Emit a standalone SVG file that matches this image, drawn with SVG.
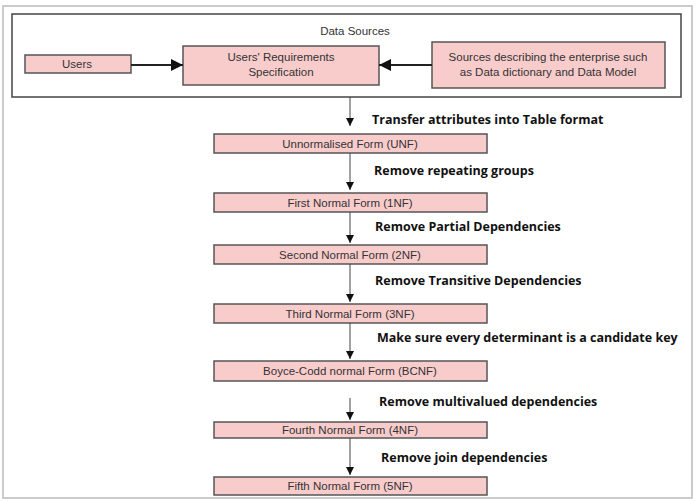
<svg xmlns="http://www.w3.org/2000/svg" width="696" height="502" viewBox="0 0 696 502">
<style>
.b{fill:#f9cccc;stroke:#555;stroke-width:1.5}
.t{font-family:"Liberation Sans",Arial,sans-serif;font-size:11.5px;fill:#333;text-anchor:middle}
.l{font-family:"Open Sans","Liberation Sans",sans-serif;font-weight:bold;font-size:12.5px;fill:#111}
.c{stroke:#444;stroke-width:1;fill:none}
.h{stroke:#222;stroke-width:2;fill:none}
</style>
<defs><marker id="a" viewBox="0 0 10 10" refX="10" refY="5" markerWidth="8" markerHeight="8" markerUnits="userSpaceOnUse" orient="auto"><path d="M0,0L10,5L0,10z" fill="#111"/></marker>
<marker id="ah" viewBox="0 0 10 10" refX="10" refY="5" markerWidth="6" markerHeight="6" orient="auto"><path d="M0,0L10,5L0,10z" fill="#111"/></marker></defs>
<rect x="0" y="0" width="696" height="502" fill="#fff"/>
<rect x="3" y="6" width="689" height="492" fill="none" stroke="#bbb" stroke-width="1.5"/>
<g id="datasources"><rect x="12" y="14" width="669" height="83" fill="#fff" stroke="#444" stroke-width="1.5"/><text class="t" x="355" y="35">Data Sources</text></g>
<g id="users"><rect class="b" x="25" y="55" width="106" height="18"/><text class="t" x="77" y="68">Users</text></g>
<g id="urs"><rect class="b" x="183" y="46" width="196" height="39"/><text class="t" x="281" y="61">Users' Requirements</text><text class="t" x="281" y="76">Specification</text></g>
<g id="sources"><rect class="b" x="432" y="42" width="233" height="46"/><text class="t" x="548" y="61">Sources describing the enterprise such</text><text class="t" x="548" y="76">as Data dictionary and  Data Model</text></g>
<g id="unf"><rect class="b" x="214" y="134" width="273" height="19"/><text class="t" x="350" y="148">Unnormalised Form (UNF)</text></g>
<g id="nf1"><rect class="b" x="214" y="193" width="273" height="19"/><text class="t" x="350" y="207">First Normal Form (1NF)</text></g>
<g id="nf2"><rect class="b" x="214" y="245" width="273" height="19"/><text class="t" x="350" y="259">Second Normal Form (2NF)</text></g>
<g id="nf3"><rect class="b" x="214" y="304" width="273" height="19"/><text class="t" x="350" y="318">Third Normal Form (3NF)</text></g>
<g id="bcnf"><rect class="b" x="214" y="361" width="273" height="20"/><text class="t" x="350" y="375">Boyce-Codd normal Form (BCNF)</text></g>
<g id="nf4"><rect class="b" x="214" y="422" width="273" height="16"/><text class="t" x="350" y="434">Fourth Normal Form (4NF)</text></g>
<g id="nf5"><rect class="b" x="214" y="477" width="273" height="18"/><text class="t" x="350" y="490">Fifth Normal Form (5NF)</text></g>
<g id="connectors">
<line class="h" x1="131" y1="65" x2="183" y2="65" marker-end="url(#ah)"/>
<line class="h" x1="432" y1="65" x2="379" y2="65" marker-end="url(#ah)"/>
<line class="c" x1="350" y1="97" x2="350" y2="126" marker-end="url(#a)"/>
<line class="c" x1="350" y1="153" x2="350" y2="190" marker-end="url(#a)"/>
<line class="c" x1="350" y1="212" x2="350" y2="243" marker-end="url(#a)"/>
<line class="c" x1="350" y1="264" x2="350" y2="302" marker-end="url(#a)"/>
<line class="c" x1="350" y1="323" x2="350" y2="359" marker-end="url(#a)"/>
<line class="c" x1="350" y1="398" x2="350" y2="420" marker-end="url(#a)"/>
<line class="c" x1="350" y1="438" x2="350" y2="475" marker-end="url(#a)"/>
</g>
<text class="l" x="372" y="124">Transfer attributes into Table format</text>
<text class="l" x="374" y="175">Remove repeating groups</text>
<text class="l" x="375" y="231">Remove Partial Dependencies</text>
<text class="l" x="375" y="285">Remove Transitive Dependencies</text>
<text class="l" x="377" y="342">Make sure every determinant is a candidate key</text>
<text class="l" x="379" y="406">Remove multivalued dependencies</text>
<text class="l" x="381" y="462">Remove join dependencies</text>
</svg>
